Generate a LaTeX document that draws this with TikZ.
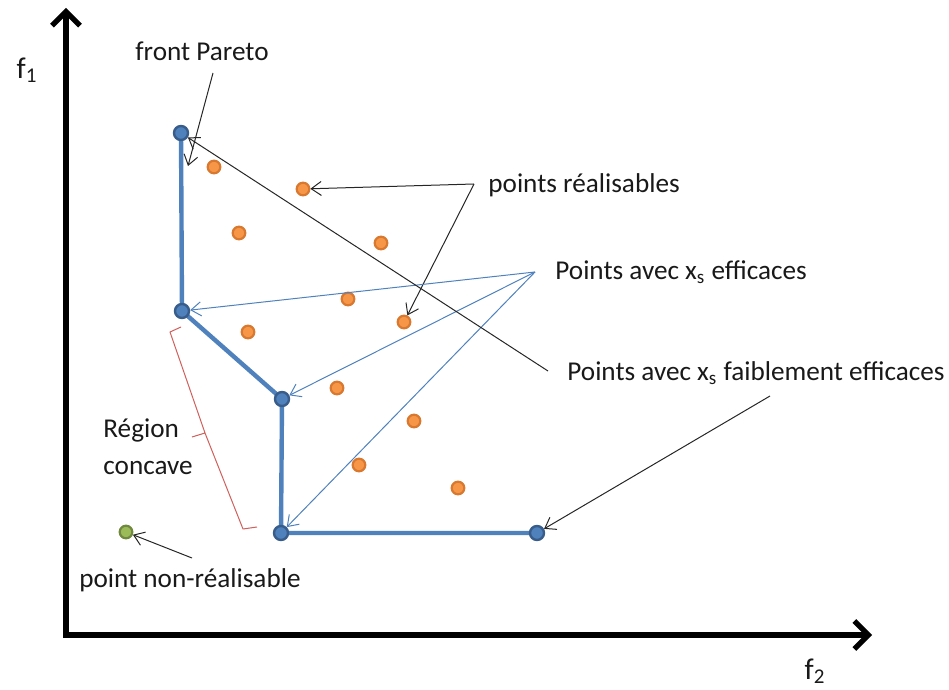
\documentclass[tikz,border=0pt]{standalone}
\usepackage{fontspec}
\setmainfont{Carlito}
\usetikzlibrary{arrows.meta}
\definecolor{frontblue}{HTML}{4F81BD}
\definecolor{frontdark}{HTML}{385D8A}
\definecolor{feasorange}{HTML}{F79646}
\definecolor{feasedge}{HTML}{D9782F}
\definecolor{infgreen}{HTML}{9BBB59}
\definecolor{infedge}{HTML}{71893F}
\definecolor{braced}{HTML}{D0605C}
\tikzset{
  axis/.style={line width=2.6pt, black, -{Straight Barb[length=7pt,width=14pt,line width=2.6pt]}},
  frontline/.style={line width=2.2pt, frontblue},
  frontpt/.style={circle, fill=frontblue, draw=frontdark, line width=1.2pt, minimum size=7pt, inner sep=0pt},
  feaspt/.style={circle, fill=feasorange, draw=feasedge, line width=1.1pt, minimum size=6.3pt, inner sep=0pt},
  infpt/.style={circle, fill=infgreen, draw=infedge, line width=1.1pt, minimum size=6.3pt, inner sep=0pt},
  note/.style={font=\fontsize{13.6}{16}\selectfont, text=black!90, inner sep=0pt},
  blackarrow/.style={line width=0.5pt, black!85, -{Straight Barb[length=5pt,width=7pt]}},
  bluearrow/.style={line width=0.5pt, frontblue, -{Straight Barb[length=5pt,width=7pt]}},
}
\begin{document}
\begin{tikzpicture}[x=0.5pt,y=-0.5pt]
\useasboundingbox (0,0) rectangle (949,690);
% axes
\coordinate (origin) at (66,635);
\coordinate (ytip) at (66,8);
\coordinate (xtip) at (872,635);
\draw[axis] ([yshift=-1.3pt]origin) -- (ytip);
\draw[axis] ([xshift=-1.3pt]origin) -- (xtip);
\node[note, font=\fontsize{15}{17}\selectfont] (f1) at (27,70) {f\textsubscript{1}};
\node[note, font=\fontsize{15}{17}\selectfont] (f2) at (815,671) {f\textsubscript{2}};

% Pareto front
\coordinate (q1) at (181,133);
\coordinate (q2) at (182,311);
\coordinate (q3) at (282,399);
\coordinate (q4) at (281,533);
\coordinate (q5) at (537,533);
\draw[frontline, line join=round] (q1) -- (q2) -- (q3) -- (q4) -- (q5);
\node[frontpt] (p1) at (q1) {};
\node[frontpt] (p2) at (q2) {};
\node[frontpt] (p3) at (q3) {};
\node[frontpt] (p4) at (q4) {};
\node[frontpt] (p5) at (q5) {};

% feasible points
\node[feaspt] (o1) at (214,167) {};
\node[feaspt] (o2) at (303,189) {};
\node[feaspt] (o3) at (239,233) {};
\node[feaspt] (o4) at (381,243) {};
\node[feaspt] (o5) at (348,299) {};
\node[feaspt] (o6) at (404,322) {};
\node[feaspt] (o7) at (248,332) {};
\node[feaspt] (o8) at (337,388) {};
\node[feaspt] (o9) at (414,421) {};
\node[feaspt] (o10) at (359,465) {};
\node[feaspt] (o11) at (458,488) {};

% infeasible point
\node[infpt] (g1) at (126,532) {};

% labels
\node[note] (pareto) at (202,51) {front Pareto};
\node[note, anchor=west] (realis) at (488,185) {points réalisables};
\node[note, anchor=west] (eff) at (555,272) {Points avec x\textsubscript{s} efficaces};
\node[note, anchor=west] (weak) at (567,373) {Points avec x\textsubscript{s} faiblement efficaces};
\node[note, align=left, anchor=west, font=\fontsize{13.6}{18.5}\selectfont] (concave) at (103,447) {Région\\concave};
\node[note] (nonreal) at (190,580) {point non-réalisable};

% connectors
\coordinate (parfrom) at (213,73);
\draw[blackarrow] (parfrom) -- (188,166);

\coordinate (realfrom) at (474,184);
\draw[blackarrow] (realfrom) -- (o2);
\draw[blackarrow] (realfrom) -- (o6);

\coordinate (efffrom) at (535,272);
\draw[bluearrow] (efffrom) -- (p2);
\draw[bluearrow] (efffrom) -- (p3);
\draw[bluearrow] (efffrom) -- (p4);

\coordinate (weakfrom) at (548,371);
\draw[blackarrow] (weakfrom) -- (p1);
\coordinate (weakfrom2) at (770,396);
\draw[blackarrow] (weakfrom2) -- (p5);

\coordinate (nonfrom) at (192,558);
\draw[blackarrow] (nonfrom) -- (g1);

% bracket of the concave region
\draw[braced, line width=0.5pt, line join=round]
  (181,327) -- (170,332) -- (205,433) -- (192,437)
  (205,433) -- (243,529) -- (257,527);
\end{tikzpicture}
\end{document}
